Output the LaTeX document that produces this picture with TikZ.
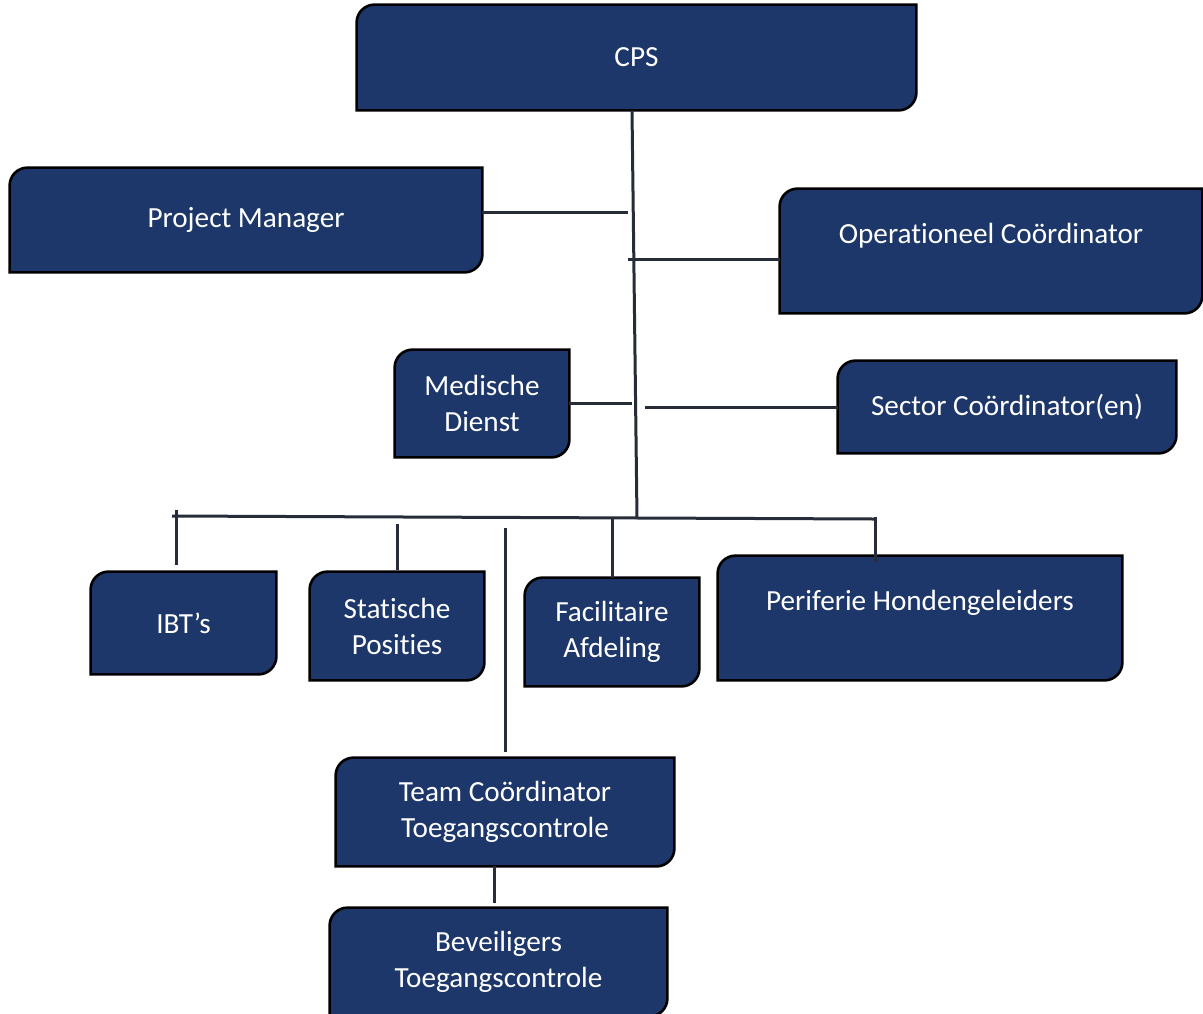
\documentclass[tikz,border=0pt]{standalone}
\usepackage{fontspec}
\setmainfont[Ligatures=NoCommon]{Carlito}
\usepackage{tikz}
\usetikzlibrary{backgrounds}
\definecolor{box_navy}{RGB}{29,55,106}
\definecolor{edge_dark}{RGB}{38,44,56}

\begin{document}
\begin{tikzpicture}[x=0.5pt,y=-0.5pt]
    \tikzstyle{orgbox}=[rectangle, inner sep=0pt, text=white, align=center,
                        font=\fontsize{14.6}{18}\selectfont]
    \tikzstyle{conn}=[draw=edge_dark, line width=1.5pt]
    \tikzstyle{boxshape}=[fill=box_navy, draw=black, line width=1.3pt]

    \useasboundingbox (0,0) rectangle (1203,1013);
    \clip (0,0) rectangle (1203,1013);

    \node[orgbox, minimum width=279.5pt, minimum height=52.5pt] (cps) at (636.5,57.5) {CPS};
    \node[orgbox, minimum width=236pt,   minimum height=52pt]   (pm)  at (246,220)    {Project Manager};
    \node[orgbox, minimum width=211pt,   minimum height=62pt,
          text height=10pt, text depth=18pt]                     (oc)  at (991,251)    {Operationeel Coördinator};
    \node[orgbox, minimum width=87pt,    minimum height=53.5pt] (md)  at (482,403.5)  {Medische\\Dienst};
    \node[orgbox, minimum width=169pt,   minimum height=46pt]   (sc)  at (1007,407)   {Sector Coördinator(en)};
    \node[orgbox, minimum width=92.5pt,  minimum height=51pt]   (ibt) at (183.5,623)  {IBT’s};
    \node[orgbox, minimum width=87pt,    minimum height=54pt]   (sp)  at (397,626)    {Statische\\Posities};
    \node[orgbox, minimum width=87pt,    minimum height=54pt]   (fa)  at (612,632)    {Facilitaire\\Afdeling};
    \node[orgbox, minimum width=202pt,   minimum height=62pt,
          text height=10pt, text depth=18pt]                     (ph)  at (920,618)    {Periferie Hondengeleiders};
    \node[orgbox, minimum width=169pt,   minimum height=54pt]   (tc)  at (505,812)    {Team Coördinator\\Toegangscontrole};
    \node[orgbox, minimum width=168.5pt, minimum height=54pt]   (bt)  at (498.5,962)  {Beveiligers\\Toegangscontrole};

    % box outlines: rounded top left and bottom right
    \begin{pgfonlayer}{background}
    \foreach \n in {cps,pm,oc,md,sc,ibt,sp,fa,ph,tc,bt}
        \path[boxshape] (\n.south west) -- ([yshift=-9pt]\n.north west)
            arc[start angle=180, end angle=90, radius=9pt] -- (\n.north east)
            -- ([yshift=9pt]\n.south east)
            arc[start angle=0, end angle=-90, radius=9pt] -- cycle;
    \end{pgfonlayer}

    \coordinate (bus) at (637,519);
    \coordinate (busl) at (172,516);
    \coordinate (busr) at (875,519);

    \draw[conn] ([xshift=-2.25pt]cps.south) -- (bus);
    \draw[conn] ([yshift=4pt]pm.east) -- ++(146,0);
    \draw[conn] ([yshift=-4pt]oc.west) -- ++(-152,0);
    \draw[conn] (md.east) -- ++(63,0);
    \draw[conn] (sc.west) -- ++(-193,0);
    \draw[conn] (busl) -- (busr);
    \draw[conn] ([xshift=-3.75pt,yshift=3.5pt]ibt.north) -- ++(0,-55);
    \draw[conn] ([yshift=1pt]sp.north) -- ++(0,-46);
    \draw[conn] (fa.north) -- ++(0,-59);
    \draw[conn] ([xshift=-22.5pt,yshift=-3pt]ph.north) -- ++(0,-45);
    \draw[conn] ([yshift=3pt]tc.north) -- ++(0,-224);
    \draw[conn] ([xshift=-5.5pt]tc.south) -- ([xshift=-2.25pt,yshift=2.5pt]bt.north);
\end{tikzpicture}
\end{document}
